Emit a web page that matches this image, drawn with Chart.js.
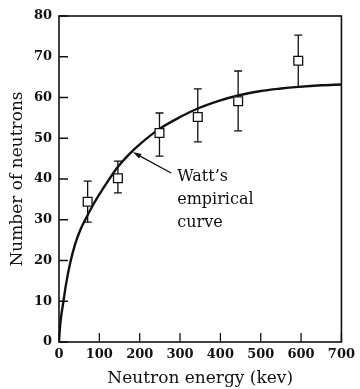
<!DOCTYPE html>
<html><head><meta charset="utf-8">
<script src="https://cdn.jsdelivr.net/npm/chart.js@4"></script>
<style>html,body{margin:0;padding:0;background:#fff}#wrap{width:360px;height:389px}</style>
</head><body><div id="wrap"><canvas id="c" width="360" height="389"></canvas></div>
<script>
// Measured points
const energies = [71, 146, 249, 344, 444, 593];
const counts   = [34.4, 40.2, 51.3, 55.2, 59.1, 69.0];
const errLow   = [29.4, 36.6, 45.6, 49.1, 51.8, 62.6];
const errHigh  = [39.5, 44.4, 56.2, 62.1, 66.5, 75.3];
// Watt's empirical curve
const curveE = [0, 2, 5, 11, 18, 28, 40, 52, 65, 82, 100, 122, 146, 173, 200, 249, 300, 344, 400, 444, 500, 550, 593, 650, 700];
const curveN = [0, 3, 6, 10, 14.5, 19.5, 24, 27.3, 30, 33.2, 36.2, 39.6, 43.0, 46.0, 48.5, 52.3, 55.2, 57.3, 59.3, 60.5, 61.6, 62.2, 62.6, 63.0, 63.2];
// Axis ticks
const xTicks = [0, 100, 200, 300, 400, 500, 600, 700];
const yTicks = [0, 10, 20, 30, 40, 50, 60, 70, 80];
const annotationLines = ["Watt\u2019s", "empirical", "curve"];

const SERIF = '"DejaVu Serif", "Liberation Serif", serif';

const decor = {
  id: 'decor',
  afterDatasetsDraw(chart) {
    const {ctx, chartArea: a, scales: {x, y}} = chart;
    ctx.save();
    ctx.strokeStyle = '#111';
    // error bars
    ctx.lineWidth = 1.3;
    energies.forEach((e, i) => {
      const px = x.getPixelForValue(e);
      const t = y.getPixelForValue(errHigh[i]);
      const b = y.getPixelForValue(errLow[i]);
      const c = y.getPixelForValue(counts[i]);
      ctx.beginPath();
      ctx.moveTo(px, t); ctx.lineTo(px, c - 4.5);
      ctx.moveTo(px, c + 4.5); ctx.lineTo(px, b);
      ctx.moveTo(px - 4, t); ctx.lineTo(px + 4, t);
      ctx.moveTo(px - 4, b); ctx.lineTo(px + 4, b);
      ctx.stroke();
    });
    // frame
    ctx.lineWidth = 1.6;
    ctx.strokeRect(a.left, a.top, a.right - a.left, a.bottom - a.top);
    // inward ticks
    ctx.lineWidth = 1.3;
    ctx.beginPath();
    xTicks.forEach(v => { const p = x.getPixelForValue(v); ctx.moveTo(p, a.bottom); ctx.lineTo(p, a.bottom - 9); });
    yTicks.forEach(v => { const p = y.getPixelForValue(v); ctx.moveTo(a.left, p); ctx.lineTo(a.left + 9, p); });
    ctx.stroke();
    // annotation
    const tx = x.getPixelForValue(293), ty = y.getPixelForValue(39.5);
    ctx.fillStyle = '#111';
    ctx.font = '16px ' + SERIF;
    ctx.textBaseline = 'alphabetic';
    ctx.textAlign = 'left';
    annotationLines.forEach((s, i) => ctx.fillText(s, tx, ty + i * 23));
    // arrow
    const ax = x.getPixelForValue(183), ay = y.getPixelForValue(46.6);
    const sx = tx - 6, sy = ty - 8;
    ctx.lineWidth = 1.3;
    ctx.beginPath(); ctx.moveTo(sx, sy); ctx.lineTo(ax + 4, ay + 2.2); ctx.stroke();
    const ang = Math.atan2(ay - sy, ax - sx);
    ctx.beginPath();
    ctx.moveTo(ax, ay);
    ctx.lineTo(ax - 9 * Math.cos(ang - 0.3), ay - 9 * Math.sin(ang - 0.3));
    ctx.lineTo(ax - 9 * Math.cos(ang + 0.3), ay - 9 * Math.sin(ang + 0.3));
    ctx.closePath(); ctx.fill();
    ctx.restore();
  }
};

new Chart(document.getElementById('c'), {
  type: 'scatter',
  data: {
    datasets: [
      {
        label: 'Watt curve',
        type: 'line',
        data: curveE.map((e, i) => ({x: e, y: curveN[i]})),
        borderColor: '#111', borderWidth: 2.4, pointRadius: 0,
        cubicInterpolationMode: 'monotone', fill: false, order: 2
      },
      {
        label: 'Measured',
        data: energies.map((e, i) => ({x: e, y: counts[i]})),
        pointStyle: 'rect', pointRadius: 6.2, backgroundColor: '#fff',
        borderColor: '#111', borderWidth: 1.3, order: 1
      }
    ]
  },
  plugins: [decor],
  options: {
    responsive: false, animation: false, devicePixelRatio: 1,
    layout: {padding: {top: 16, right: 16, left: 0, bottom: 0}},
    plugins: {legend: {display: false}, tooltip: {enabled: false}},
    scales: {
      x: {
        type: 'linear', min: 0, max: 700,
        afterBuildTicks: s => { s.ticks = xTicks.map(v => ({value: v})); },
        afterFit: s => { s.height = 47; },
        grid: {display: false, drawTicks: false},
        border: {display: false},
        ticks: {color: '#111', padding: 5, maxRotation: 0, font: {family: SERIF, size: 13, weight: 'bold'}},
        title: {display: true, text: 'Neutron energy (kev)', color: '#111', padding: {top: 0, bottom: 0}, font: {family: SERIF, size: 17}}
      },
      y: {
        type: 'linear', min: 0, max: 80,
        afterBuildTicks: s => { s.ticks = yTicks.map(v => ({value: v})); },
        afterFit: s => { s.width = 59; },
        grid: {display: false, drawTicks: false},
        border: {display: false},
        ticks: {color: '#111', padding: 7, font: {family: SERIF, size: 13, weight: 'bold'}},
        title: {display: true, text: 'Number of neutrons', color: '#111', padding: {top: 7, bottom: 0}, font: {family: SERIF, size: 17}}
      }
    }
  }
});
</script></body></html>
